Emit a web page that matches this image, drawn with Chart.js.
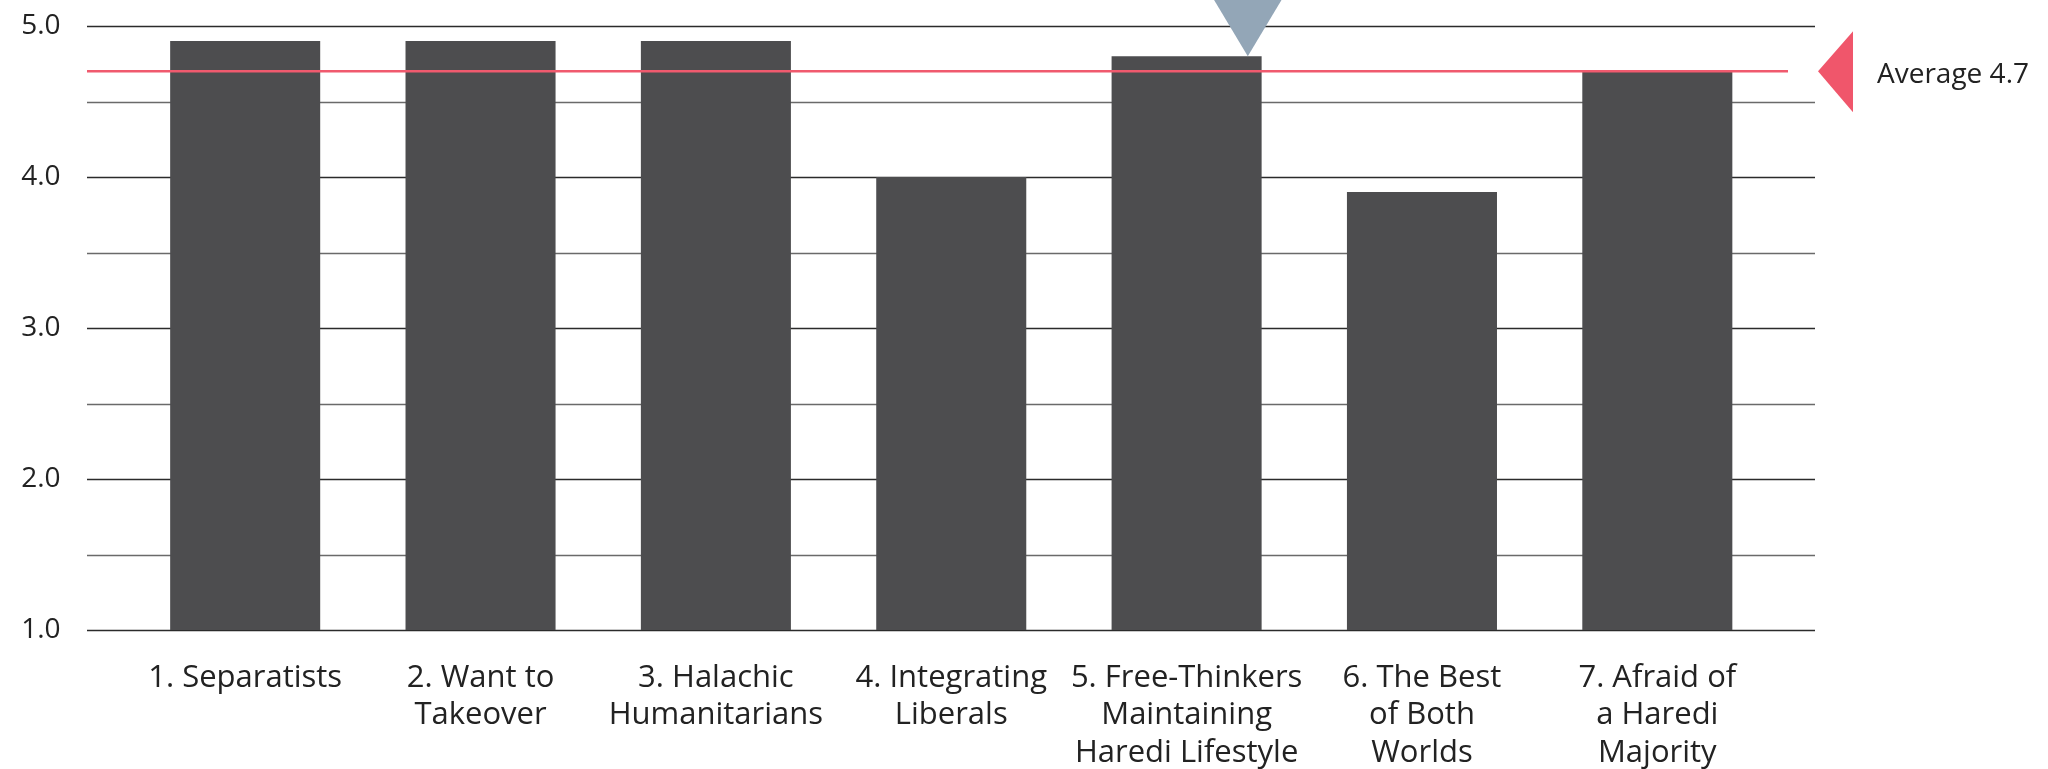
<!DOCTYPE html>
<html>
<head>
<meta charset="utf-8">
<script src="https://cdn.jsdelivr.net/npm/chart.js@4.4.1/dist/chart.umd.min.js"></script>
<style>
  html, body { margin: 0; padding: 0; background: #fff; }
  #wrap { width: 2048px; height: 769px; }
</style>
</head>
<body>
<div id="wrap"><canvas id="myChart" width="2048" height="769"></canvas></div>
<script>
// chart values
var categories = [
    ['1. Separatists'],
    ['2. Want to', 'Takeover'],
    ['3. Halachic', 'Humanitarians'],
    ['4. Integrating', 'Liberals'],
    ['5. Free-Thinkers', 'Maintaining', 'Haredi Lifestyle'],
    ['6. The Best', 'of Both', 'Worlds'],
    ['7. Afraid of', 'a Haredi', 'Majority']
];
var scores = [4.9, 4.9, 4.9, 4.0, 4.8, 3.9, 4.7];
var yTicks = [1.0, 2.0, 3.0, 4.0, 5.0];
var average = 4.7;
var averageLabel = 'Average 4.7';
var highlightIndex = 4;

var FONT = '"Open Sans", Roboto, sans-serif';

// grid lines run wider than the bars area, so draw them here
var gridPlugin = {
    id: 'wideGrid',
    beforeDatasetsDraw: function(chart) {
        var ctx = chart.ctx;
        var y = chart.scales.y;
        ctx.save();
        for (var v = yTicks[0]; v <= yTicks[yTicks.length - 1] + 0.001; v += 0.5) {
            var py = Math.round(y.getPixelForValue(v)) + 0.5;
            var major = Math.abs(v - Math.round(v)) < 0.001;
            ctx.strokeStyle = major ? '#2b2b2b' : '#6a6a6a';
            ctx.lineWidth = major ? 1.6 : 1.4;
            ctx.beginPath();
            ctx.moveTo(87, py);
            ctx.lineTo(1815, py);
            ctx.stroke();
        }
        ctx.restore();
    },
    afterDatasetsDraw: function(chart) {
        var ctx = chart.ctx;
        var x = chart.scales.x;
        var y = chart.scales.y;
        var ay = y.getPixelForValue(average);
        ctx.save();
        // average line
        ctx.strokeStyle = '#f05a6e';
        ctx.lineWidth = 2.5;
        ctx.beginPath();
        ctx.moveTo(87, ay);
        ctx.lineTo(1788, ay);
        ctx.stroke();
        // average marker
        ctx.fillStyle = '#f0566b';
        ctx.beginPath();
        ctx.moveTo(1818, ay);
        ctx.lineTo(1853, ay - 40);
        ctx.lineTo(1853, ay + 41);
        ctx.closePath();
        ctx.fill();
        ctx.fillStyle = '#222';
        ctx.font = '28px ' + FONT;
        ctx.textBaseline = 'middle';
        ctx.textAlign = 'left';
        ctx.fillText(averageLabel, 1877, ay + 4);
        // highlight marker above group 5
        var step = x.getPixelForValue(1) - x.getPixelForValue(0);
        var hx = x.getPixelForValue(highlightIndex) + 0.26 * step;
        var hy = y.getPixelForValue(scores[highlightIndex]);
        ctx.fillStyle = '#93a6b7';
        ctx.beginPath();
        ctx.moveTo(hx, hy);
        ctx.lineTo(hx - 42, hy - 70);
        ctx.lineTo(hx + 42, hy - 70);
        ctx.closePath();
        ctx.fill();
        ctx.restore();
    }
};

var ctx = 'myChart';
var myChart = new Chart(ctx, {
    type: 'bar',
    data: {
        labels: categories,
        datasets: [{
            data: scores,
            backgroundColor: '#4d4d4f',
            borderWidth: 0,
            barPercentage: 0.6375,
            categoryPercentage: 1.0
        }]
    },
    options: {
        responsive: false,
        animation: false,
        layout: { padding: { top: 26, right: 273, bottom: 0, left: 0 } },
        plugins: {
            legend: { display: false },
            tooltip: { enabled: false }
        },
        scales: {
            x: {
                grid: { display: false },
                border: { display: false },
                ticks: {
                    color: '#222',
                    font: { family: FONT, size: 31, lineHeight: '37.5px' },
                    padding: 21,
                    maxRotation: 0,
                    autoSkip: false
                },
                afterFit: function(scale) { scale.height = 139; }
            },
            y: {
                min: 1,
                max: 5,
                grid: { display: false, drawTicks: false },
                border: { display: false },
                ticks: {
                    stepSize: 0.5,
                    color: '#222',
                    font: { family: FONT, size: 28 },
                    padding: 67,
                    callback: function(v) {
                        return yTicks.indexOf(v) !== -1 ? v.toFixed(1) : '';
                    }
                },
                afterFit: function(scale) {
                    scale.width = 127.5;
                    scale.paddingTop = 0;
                    scale.paddingBottom = 0;
                }
            }
        }
    },
    plugins: [gridPlugin]
});
</script>
</body>
</html>
